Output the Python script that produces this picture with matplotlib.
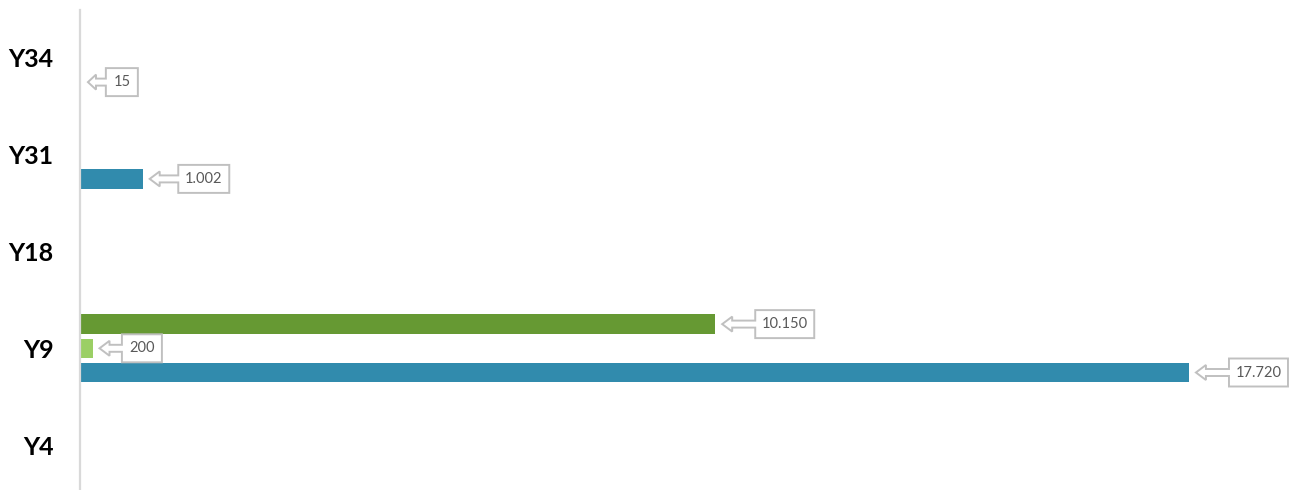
import matplotlib.pyplot as plt
import matplotlib.transforms as mtransforms
from matplotlib.patches import Polygon

categories = ["Y4", "Y9", "Y18", "Y31", "Y34"]
# series from bottom to top inside a group
blue_vals = [0, 17720, 0, 1002, 15]
light_green_vals = [0, 200, 0, 0, 0]
dark_green_vals = [0, 10150, 0, 0, 0]

series = [
    (blue_vals, "#318bad", -0.25),
    (light_green_vals, "#9bcf65", 0.0),
    (dark_green_vals, "#669933", 0.25),
]

fig = plt.figure(figsize=(12.9, 4.9), dpi=100)
ax = fig.add_axes([80 / 1290, -3.5 / 490, 1210 / 1290, 484 / 490])

ypos = list(range(len(categories)))


def fmt(v):
    return f"{v:,}".replace(",", ".")


def callout(x, y, text):
    # left arrow callout, drawn in pixel units from the arrow tip
    w = 16 + 8 * sum(c.isdigit() for c in text) + 3 * text.count(".")
    arrow = 0.56 * w
    head = min(10, arrow * 0.45)
    px = [(0, 0), (head, 7.5), (head, 3.5), (arrow, 3.5), (arrow, 14), (arrow + w, 14),
          (arrow + w, -14), (arrow, -14), (arrow, -3.5), (head, -3.5), (head, -7.5)]
    verts = [((a + 7) / 100, b / 100) for a, b in px]
    trans = fig.dpi_scale_trans + mtransforms.ScaledTranslation(x, y, ax.transData)
    ax.add_patch(Polygon(verts, closed=True, transform=trans, facecolor="white",
                         edgecolor="#c0c0c0", lw=1.4, clip_on=False, zorder=3))
    ax.text((7 + arrow + w / 2) / 100, 0, text, transform=trans, ha="center", va="center",
            fontsize=10.5, color="#595959", family="Lato", zorder=4)


for vals, color, off in series:
    ys = [p + off for p in ypos]
    ax.barh(ys, vals, height=0.2, color=color, zorder=2)
    for v, yy in zip(vals, ys):
        if v:
            callout(v, yy, fmt(v))

ax.set_xlim(0, 19335)
ax.set_ylim(-0.5, 4.5)
ax.set_yticks(ypos)
ax.set_yticklabels(categories, fontsize=18, fontweight="bold", family="Lato")
ax.tick_params(axis="y", length=0, pad=19)
ax.set_xticks([])
for s in ["top", "right", "bottom"]:
    ax.spines[s].set_visible(False)
ax.spines["left"].set_color("#d9d9d9")
ax.spines["left"].set_linewidth(1.6)
ax.spines["left"].set_bounds(-0.45, 4.5)

fig.savefig("out.png", dpi=100)
